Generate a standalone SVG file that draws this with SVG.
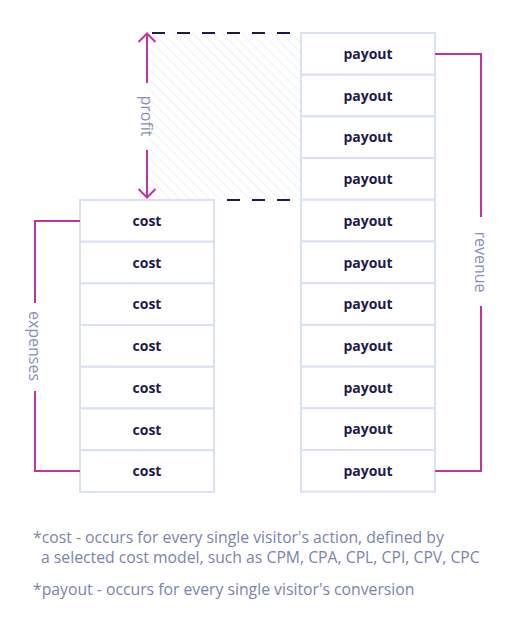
<svg xmlns="http://www.w3.org/2000/svg" width="522" height="633" viewBox="0 0 522 633">
<defs>
<pattern id="hatch" patternUnits="userSpaceOnUse" width="7" height="7" patternTransform="rotate(-45)">
<rect width="7" height="7" fill="#ffffff"/>
<line x1="0" y1="0" x2="0" y2="7" stroke="#e6e8ee" stroke-width="1.2"/>
</pattern>
<style>
.cell{fill:#fff;stroke:#dae2f0;stroke-width:2}
.lbl{font-family:"Open Sans","Noto Sans",sans-serif;font-weight:700;font-size:14px;fill:#1e1a4e;text-anchor:middle}
.side{font-family:"Open Sans","Noto Sans",sans-serif;font-size:16px;fill:#8890b4;text-anchor:middle}
.note{font-family:"Open Sans","Noto Sans",sans-serif;font-size:15.75px;fill:#7b84aa}
.mag{fill:none;stroke:#c4339b;stroke-width:2}
.dash{stroke:#1e1a4e;stroke-width:2;stroke-dasharray:13 12}
</style>
</defs>
<rect width="522" height="633" fill="#ffffff"/>
<rect x="148" y="33" width="153" height="167" fill="url(#hatch)"/>

<g id="costs">
<g id="cost1"><rect class="cell" x="80" y="200" width="134" height="41.7"/><text class="lbl" x="147" y="226">cost</text></g>
<g id="cost2"><rect class="cell" x="80" y="241.7" width="134" height="41.7"/><text class="lbl" x="147" y="267.7">cost</text></g>
<g id="cost3"><rect class="cell" x="80" y="283.4" width="134" height="41.7"/><text class="lbl" x="147" y="309.4">cost</text></g>
<g id="cost4"><rect class="cell" x="80" y="325.1" width="134" height="41.7"/><text class="lbl" x="147" y="351.1">cost</text></g>
<g id="cost5"><rect class="cell" x="80" y="366.8" width="134" height="41.7"/><text class="lbl" x="147" y="392.8">cost</text></g>
<g id="cost6"><rect class="cell" x="80" y="408.5" width="134" height="41.7"/><text class="lbl" x="147" y="434.5">cost</text></g>
<g id="cost7"><rect class="cell" x="80" y="450.2" width="134" height="41.7"/><text class="lbl" x="147" y="476.2">cost</text></g>
</g>

<g id="payouts">
<g id="payout1"><rect class="cell" x="301" y="33" width="134" height="41.7"/><text class="lbl" x="368" y="59">payout</text></g>
<g id="payout2"><rect class="cell" x="301" y="74.7" width="134" height="41.7"/><text class="lbl" x="368" y="100.7">payout</text></g>
<g id="payout3"><rect class="cell" x="301" y="116.4" width="134" height="41.7"/><text class="lbl" x="368" y="142.4">payout</text></g>
<g id="payout4"><rect class="cell" x="301" y="158.1" width="134" height="41.7"/><text class="lbl" x="368" y="184.1">payout</text></g>
<g id="payout5"><rect class="cell" x="301" y="199.8" width="134" height="41.7"/><text class="lbl" x="368" y="225.8">payout</text></g>
<g id="payout6"><rect class="cell" x="301" y="241.5" width="134" height="41.7"/><text class="lbl" x="368" y="267.5">payout</text></g>
<g id="payout7"><rect class="cell" x="301" y="283.2" width="134" height="41.7"/><text class="lbl" x="368" y="309.2">payout</text></g>
<g id="payout8"><rect class="cell" x="301" y="324.9" width="134" height="41.7"/><text class="lbl" x="368" y="350.9">payout</text></g>
<g id="payout9"><rect class="cell" x="301" y="366.6" width="134" height="41.7"/><text class="lbl" x="368" y="392.6">payout</text></g>
<g id="payout10"><rect class="cell" x="301" y="408.3" width="134" height="41.7"/><text class="lbl" x="368" y="434.3">payout</text></g>
<g id="payout11"><rect class="cell" x="301" y="450" width="134" height="41.7"/><text class="lbl" x="368" y="476">payout</text></g>
</g>

<g id="connectors">
<line class="dash" x1="152" y1="33" x2="300" y2="33"/>
<line class="dash" x1="227" y1="200" x2="300" y2="200"/>
<line class="mag" x1="147" y1="34" x2="147" y2="83"/>
<path class="mag" d="M138.5,42 L147,33.5 L155.5,42"/>
<line class="mag" x1="147" y1="150" x2="147" y2="198"/>
<path class="mag" d="M138.5,189 L147,197.5 L155.5,189"/>
<polyline class="mag" points="80,221 35,221 35,303"/>
<polyline class="mag" points="35,391 35,471 80,471"/>
<polyline class="mag" points="435,54 481,54 481,217"/>
<polyline class="mag" points="481,306 481,471 435,471"/>
</g>

<g id="labels">
<text class="side" transform="translate(141,116) rotate(90)">profit</text>
<text class="side" transform="translate(29,346) rotate(90)">expenses</text>
<text class="side" transform="translate(475,262) rotate(90)">revenue</text>
</g>

<g id="notes">
<text class="note" x="33" y="543">*cost - occurs for every single visitor's action, defined by</text>
<text class="note" x="41" y="563">a selected cost model, such as CPM, CPA, CPL, CPI, CPV, CPC</text>
<text class="note" x="33" y="595">*payout - occurs for every single visitor's conversion</text>
</g>
</svg>
